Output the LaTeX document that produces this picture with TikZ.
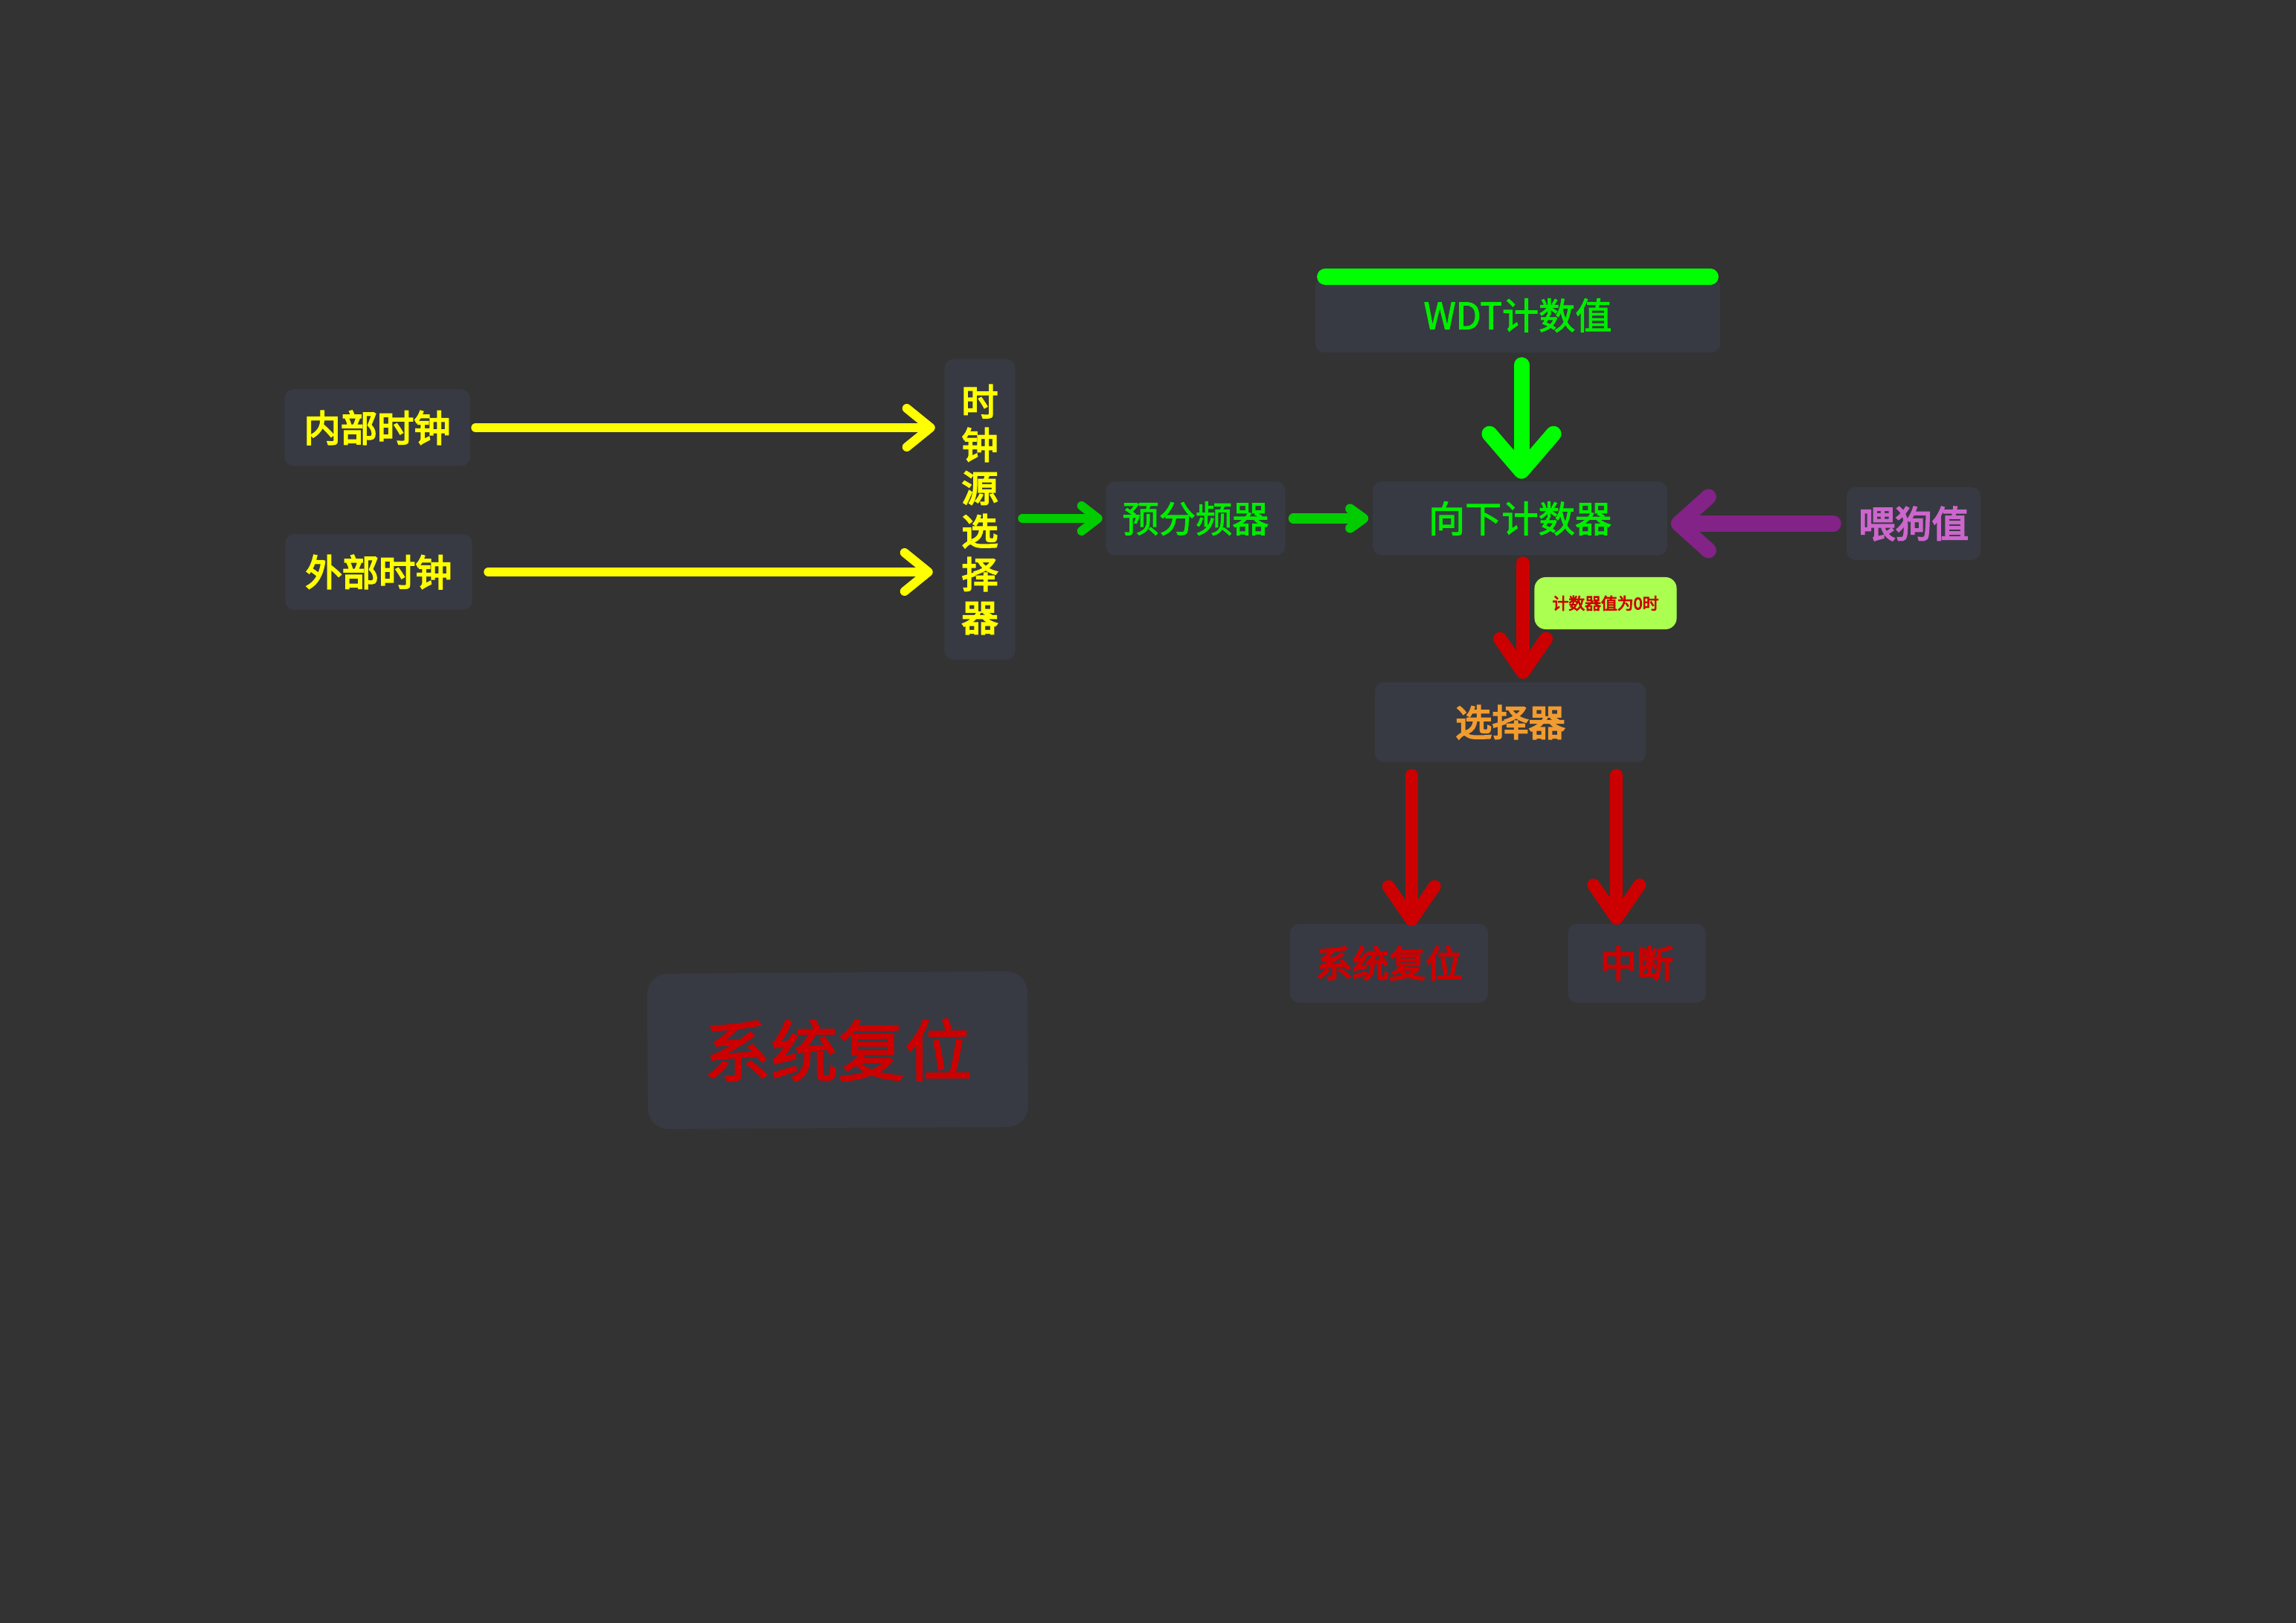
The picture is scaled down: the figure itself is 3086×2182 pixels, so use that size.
\documentclass[tikz,border=0pt]{standalone}
\usepackage{fontspec}
\newfontfamily\cjk{Noto Sans CJK SC}
\newfontfamily\cjkm[FakeBold=4]{Noto Sans CJK SC}
\newfontfamily\cjkr[FakeBold=2]{Noto Sans CJK SC}
\usetikzlibrary{arrows.meta}
\definecolor{bg}{HTML}{333333}
\definecolor{boxc}{HTML}{373A42}
\definecolor{yel}{HTML}{FFFF00}
\definecolor{grn}{HTML}{00CC00}
\definecolor{brgrn}{HTML}{00FF00}
\definecolor{txgrn}{HTML}{00EE00}
\definecolor{purp}{HTML}{832287}
\definecolor{pink}{HTML}{CC66CC}
\definecolor{redc}{HTML}{CC0000}
\definecolor{orng}{HTML}{F29C30}
\definecolor{lime}{HTML}{AAFF50}
\tikzset{
  box/.style={fill=boxc, rounded corners=0.12cm, inner sep=0pt, align=center},
  reg/.style={font=\cjkr\fontsize{14}{16.5}\selectfont},
  bld/.style={font=\cjkm\fontsize{14}{16.5}\selectfont},
  ya/.style={draw=yel, line width=0.12cm, line cap=round,
    -{Straight Barb[length=0.32cm, width=0.52cm, round]}},
  gsmall/.style={draw=grn, line width=0.12cm, line cap=round,
    -{Straight Barb[length=0.22cm, width=0.34cm, round]}},
  gmid/.style={draw=grn, line width=0.13cm, line cap=round,
    -{Straight Barb[length=0.18cm, width=0.26cm, round]}},
  gbig/.style={draw=brgrn, line width=0.21cm, line cap=round,
    -{Straight Barb[length=0.5cm, width=0.86cm, round]}},
  pa/.style={draw=purp, line width=0.21cm, line cap=round,
    -{Straight Barb[length=0.4cm, width=0.72cm, round]}},
  ra/.style={draw=redc, line width=0.18cm, line cap=round,
    -{Straight Barb[length=0.45cm, width=0.62cm, round]}},
}
\begin{document}
\begin{tikzpicture}[x=0.01cm,y=-0.01cm]
\fill[bg] (0,0) rectangle (3086,2182);
\useasboundingbox (0,0) rectangle (3086,2182);

% nodes
\node[box, bld, text=yel, minimum width=2.49cm, minimum height=1.03cm] (in1) at (507,575) {内部时钟};
\node[box, bld, text=yel, minimum width=2.51cm, minimum height=1.02cm] (in2) at (509,769) {外部时钟};
\node[box, bld, text=yel, minimum width=0.95cm, minimum height=4.04cm] (sel) at (1317,685) {时\\钟\\源\\选\\择\\器};
\node[box, reg, text=txgrn, minimum width=2.41cm, minimum height=0.99cm] (pre) at (1607,697) {预分频器};
\node[box, reg, text=txgrn, minimum width=5.44cm, minimum height=1.0cm] (wdt) at (2040,424) {WDT计数值};
\node[box, reg, text=txgrn, minimum width=3.96cm, minimum height=0.99cm] (cnt) at (2043,697) {向下计数器};
\node[box, bld, text=pink, minimum width=1.80cm, minimum height=0.98cm] (feed) at (2572,704) {喂狗值};
\node[box, fill=lime, rounded corners=0.15cm, text=redc, font=\cjkm\fontsize{6.2}{7}\selectfont,
  minimum width=1.91cm, minimum height=0.70cm] (lbl) at (2158,811) {计数器值为0时};
\node[box, bld, text=orng, minimum width=3.64cm, minimum height=1.07cm] (mux) at (2030,971) {选择器};
\node[box, bld, text=redc, minimum width=2.66cm, minimum height=1.06cm] (rst) at (1867,1295) {系统复位};
\node[box, bld, text=redc, minimum width=1.85cm, minimum height=1.06cm] (irq) at (2200,1295) {中断};
\node[box, rounded corners=0.28cm, text=redc, font=\cjkr\fontsize{25.6}{30}\selectfont,
  minimum width=5.11cm, minimum height=2.09cm, rotate=0.35] (big) at (1126,1412) {系统复位};

% top bar of WDT box
\draw[brgrn, line width=0.22cm, line cap=round] ([shift={(14,-1)}]wdt.north west) -- ([shift={(-14,-1)}]wdt.north east);

% connectors
\draw[ya, shorten <=0.07cm, shorten >=0.12cm] (in1.east) -- (in1.east -| sel.west);
\draw[ya, shorten <=0.21cm, shorten >=0.15cm] (in2.east) -- (in2.east -| sel.west);
\draw[gsmall, shorten <=0.09cm, shorten >=0.04cm] (pre.west -| sel.east) -- (pre.west);
\draw[gmid, shorten <=0.10cm, shorten >=0.05cm] (pre.east) -- (pre.east -| cnt.west);
\draw[gbig, shorten <=0.16cm, shorten >=0.03cm] ([shift={(5,0)}]wdt.south) -- ([shift={(5,0)}]wdt.south |- cnt.north);
\draw[pa, shorten <=0.17cm, shorten >=0.04cm] (feed.west) -- (feed.west -| cnt.east);
\draw[ra, shorten <=0.1cm, shorten >=0.04cm] ([shift={(4,0)}]cnt.south) -- ([shift={(4,0)}]cnt.south |- mux.north);
\draw[ra, line width=0.17cm, shorten <=0.17cm, shorten >=-0.04cm] ([shift={(50,0)}]mux.south west) -- ([shift={(50,0)}]mux.south west |- rst.north);
\draw[ra, line width=0.17cm, shorten <=0.17cm, shorten >=-0.02cm] ([shift={(-40,0)}]mux.south east) -- ([shift={(-40,0)}]mux.south east |- irq.north);
\end{tikzpicture}
\end{document}
